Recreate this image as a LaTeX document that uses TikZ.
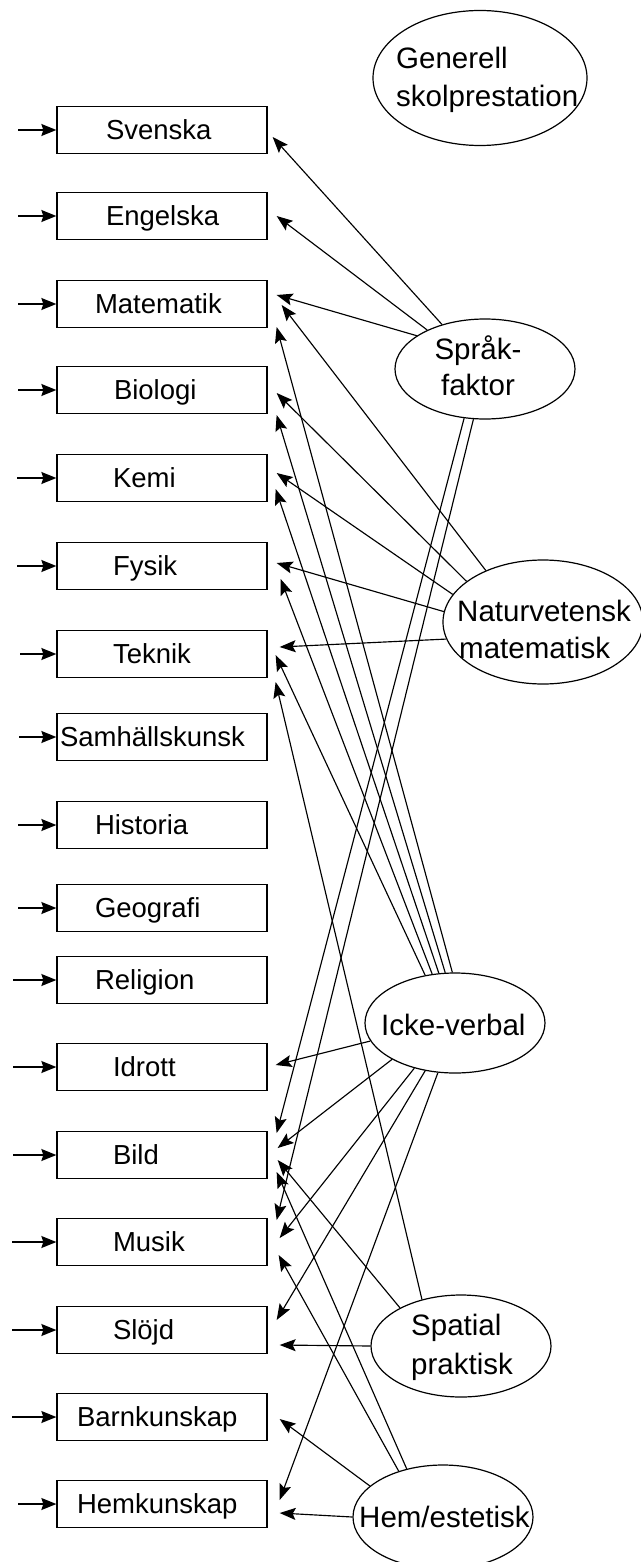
\documentclass[tikz,border=0pt]{standalone}
\usepackage{fontspec}
\setmainfont{Liberation Sans}
\usetikzlibrary{arrows.meta,shapes.geometric,calc}
\begin{document}
\begin{tikzpicture}[x=1pt,y=-1pt,
  box/.style={draw, line width=1.3pt, rectangle, minimum height=47pt, text width=206pt,
    inner xsep=2pt, inner ysep=0pt, align=left, font=\fontsize{27.5}{32}\selectfont,
    text height=19.6pt, text depth=0pt},
  fac/.style={draw, ellipse, line width=1.2pt, inner sep=0pt},
  ftxt/.style={inner sep=0pt, font=\fontsize{29.5}{36}\selectfont},
  conn/.style={line width=1.15pt, -{Stealth[length=16pt,width=12pt,inset=3pt]}},
  inarr/.style={line width=1.4pt, {Stealth[length=15pt,width=12pt,inset=2pt]}-},
]
\useasboundingbox (0,0) rectangle (640,1562);

% boxes
\node[box] (svenska)   at (162,130)  {\hspace*{47pt}Svenska};
\node[box] (engelska)  at (162,216)  {\hspace*{47pt}Engelska};
\node[box] (matematik) at (162,304)  {\hspace*{36pt}Matematik};
\node[box] (biologi)   at (162,390)  {\hspace*{55pt}Biologi};
\node[box] (kemi)      at (162,478)  {\hspace*{54pt}Kemi};
\node[box] (fysik)     at (162,566)  {\hspace*{54pt}Fysik};
\node[box] (teknik)    at (162,654)  {\hspace*{54pt}Teknik};
\node[box] (samh)      at (162,737)  {\hspace*{1pt}Samhällskunsk};
\node[box] (historia)  at (162,825)  {\hspace*{36pt}Historia};
\node[box] (geografi)  at (162,908)  {\hspace*{36pt}Geografi};
\node[box] (religion)  at (162,980)  {\hspace*{36pt}Religion};
\node[box] (idrott)    at (162,1067) {\hspace*{54pt}Idrott};
\node[box] (bild)      at (162,1155) {\hspace*{54pt}Bild};
\node[box] (musik)     at (162,1242) {\hspace*{54pt}Musik};
\node[box] (slojd)     at (162,1330) {\hspace*{54pt}Slöjd};
\node[box] (barn)      at (162,1417) {\hspace*{18pt}Barnkunskap};
\node[box] (hem)       at (162,1504) {\hspace*{18pt}Hemkunskap};

% input arrows
\draw[inarr] (svenska.west)   -- ++(-38,0);
\draw[inarr] (engelska.west)  -- ++(-38,0);
\draw[inarr] (matematik.west) -- ++(-38,0);
\draw[inarr] (biologi.west)   -- ++(-38,0);
\draw[inarr] (kemi.west)      -- ++(-39,0);
\draw[inarr] (fysik.west)     -- ++(-39,0);
\draw[inarr] (teknik.west)    -- ++(-36,0);
\draw[inarr] (samh.west)      -- ++(-37,0);
\draw[inarr] (historia.west)  -- ++(-38,0);
\draw[inarr] (geografi.west)  -- ++(-38,0);
\draw[inarr] (religion.west)  -- ++(-43,0);
\draw[inarr] (idrott.west)    -- ++(-43,0);
\draw[inarr] (bild.west)      -- ++(-43,0);
\draw[inarr] (musik.west)     -- ++(-44,0);
\draw[inarr] (slojd.west)     -- ++(-44,0);
\draw[inarr] (barn.west)      -- ++(-44,0);
\draw[inarr] (hem.west)       -- ++(-38,0);

% factor ellipses
\node[fac, minimum width=214pt, minimum height=135pt] (gen)     at (480,78)   {};
\node[fac, minimum width=180pt, minimum height=100pt] (sprak)   at (485,369)  {};
\node[fac, minimum width=200pt, minimum height=124pt] (natur)   at (543,622)  {};
\node[fac, minimum width=180pt, minimum height=100pt] (icke)    at (455,1023) {};
\node[fac, minimum width=180pt, minimum height=102pt] (spatial) at (461,1346) {};
\node[fac, minimum width=180pt, minimum height=104pt] (hemf)    at (443,1517) {};

% factor texts
\node[ftxt, anchor=base west] (gen1) at (396,69)   {Generell};
\node[ftxt, anchor=base west] (gen2) at (396,107)  {skolprestation};
\node[ftxt, anchor=base]      (sp1)  at (478,359)  {Språk-};
\node[ftxt, anchor=base]      (sp2)  at (478,395)  {faktor};
\node[ftxt, anchor=base west] (na1)  at (457,621)  {Naturvetensk};
\node[ftxt, anchor=base west] (na2)  at (459,658)  {matematisk};
\node[ftxt, anchor=base west] (ic1)  at (381,1035) {Icke-verbal};
\node[ftxt, anchor=base west] (spa1) at (411,1335) {Spatial};
\node[ftxt, anchor=base west] (spa2) at (411,1374) {praktisk};
\node[ftxt, anchor=base west] (he1)  at (359,1527) {Hem/estetisk};

% Språkfaktor
\draw[conn] (sprak.134) -- ($(svenska.east)+(5,7)$);
\draw[conn] (sprak.146) -- ($(engelska.east)+(9,0)$);
\draw[conn] (sprak.154) -- ($(matematik.east)+(9,-9)$);
\draw[conn] (sprak.247) -- ($(bild.east)+(9,-22)$);
\draw[conn] (sprak.257) -- ($(musik.east)+(9,-22)$);

% Naturvetensk matematisk
\draw[conn] (natur.138)   -- ($(matematik.east)+(14,1)$);
\draw[conn] (natur.152)   -- ($(biologi.east)+(9,3)$);
\draw[conn] (natur.163)   -- ($(kemi.east)+(9,-5)$);
\draw[conn] (natur.174.5) -- ($(fysik.east)+(9,-3)$);
\draw[conn] (natur.190)   -- ($(teknik.east)+(12,-7)$);

% Icke-verbal
\draw[conn] (icke.93)    -- ($(matematik.east)+(9,23)$);
\draw[conn] (icke.101)   -- ($(biologi.east)+(9,25)$);
\draw[conn] (icke.108)   -- ($(kemi.east)+(8,11)$);
\draw[conn] (icke.115.5) -- ($(fysik.east)+(13,13)$);
\draw[conn] (icke.122.5) -- ($(teknik.east)+(8,1)$);
\draw[conn] (icke.192)   -- ($(idrott.east)+(8,-2)$);
\draw[conn] (icke.210)   -- ($(bild.east)+(10,-7)$);
\draw[conn] (icke.228)   -- ($(musik.east)+(12,-4)$);
\draw[conn] (icke.238.5) -- ($(slojd.east)+(9,-10)$);
\draw[conn] (icke.251)   -- ($(hem.east)+(12,-4)$);

% Spatial praktisk
\draw[conn] (spatial.130) -- ($(teknik.east)+(8,28)$);
\draw[conn] (spatial.148) -- ($(bild.east)+(10,5)$);
\draw[conn] (spatial.180) -- ($(slojd.east)+(12,15)$);

% Hem/estetisk
\draw[conn] (hemf.134)   -- ($(musik.east)+(11,13)$);
\draw[conn] (hemf.127)   -- ($(bild.east)+(9,17)$);
\draw[conn] (hemf.157)   -- ($(barn.east)+(12,2)$);
\draw[conn] (hemf.180.6) -- ($(hem.east)+(12,9)$);
\end{tikzpicture}
\end{document}
